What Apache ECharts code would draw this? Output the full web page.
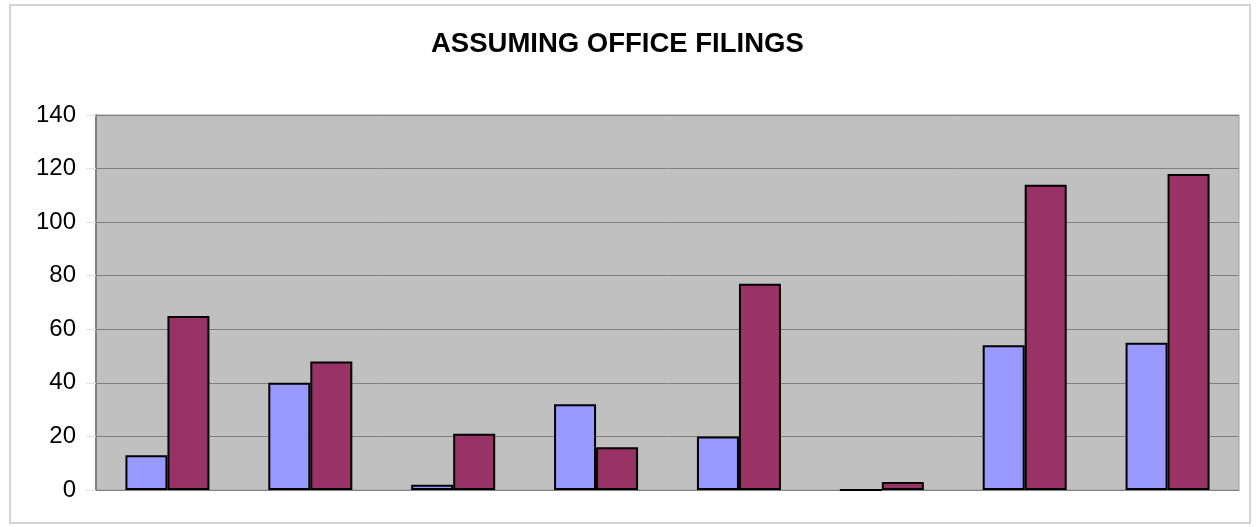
<!DOCTYPE html>
<html>
<head>
<meta charset="utf-8">
<script src="https://cdn.jsdelivr.net/npm/echarts@6/dist/echarts.min.js"></script>
<style>
  html, body { margin: 0; padding: 0; background: #fff; }
  #chart { width: 1257px; height: 527px; }
</style>
</head>
<body>
<div id="chart"></div>
<script>
// categories have no visible labels in the picture
const categories = ['1', '2', '3', '4', '5', '6', '7', '8'];
const seriesA = [13, 40, 2, 32, 20, 0, 54, 55];
const seriesB = [65, 48, 21, 16, 77, 3, 114, 118];
const yTicks = { min: 0, max: 140, interval: 20 };

const chart = echarts.init(document.getElementById('chart'));

chart.setOption({
    backgroundColor: '#fff',
    animation: false,
    title: {
        text: 'ASSUMING OFFICE FILINGS',
        left: 426,
        top: 25,
        textStyle: { fontFamily: 'Liberation Sans', fontWeight: 'bold', fontSize: 27.5, color: '#000' }
    },
    graphic: [{
        type: 'rect',
        shape: { x: 10, y: 5, width: 1240, height: 518 },
        style: { fill: 'none', stroke: '#d4d4d4', lineWidth: 2 },
        z: -10
    }],
    grid: {
        left: 96, right: 18, top: 115, bottom: 37,
        show: true,
        backgroundColor: '#c0c0c0',
        borderColor: '#a0a0a0',
        borderWidth: 1
    },
    xAxis: {
        type: 'category',
        data: categories,
        axisLabel: { show: false },
        axisTick: { show: false },
        axisLine: { lineStyle: { color: '#808080', width: 1 } }
    },
    yAxis: {
        type: 'value',
        min: yTicks.min,
        max: yTicks.max,
        interval: yTicks.interval,
        axisLabel: { fontFamily: 'Liberation Sans', fontSize: 24, color: '#000', margin: 20 },
        axisTick: { show: true, length: 10, lineStyle: { color: '#e0e0e0' } },
        axisLine: { show: true, lineStyle: { color: '#808080', width: 2 } },
        splitLine: { lineStyle: { color: '#808080', width: 1 } }
    },
    series: [
        {
            type: 'bar',
            data: seriesA,
            barWidth: 42,
            barGap: '0%',
            itemStyle: { color: '#9999ff', borderColor: '#000', borderWidth: 2 }
        },
        {
            type: 'bar',
            data: seriesB,
            barWidth: 42,
            itemStyle: { color: '#993366', borderColor: '#000', borderWidth: 2 }
        }
    ]
});
</script>
</body>
</html>
